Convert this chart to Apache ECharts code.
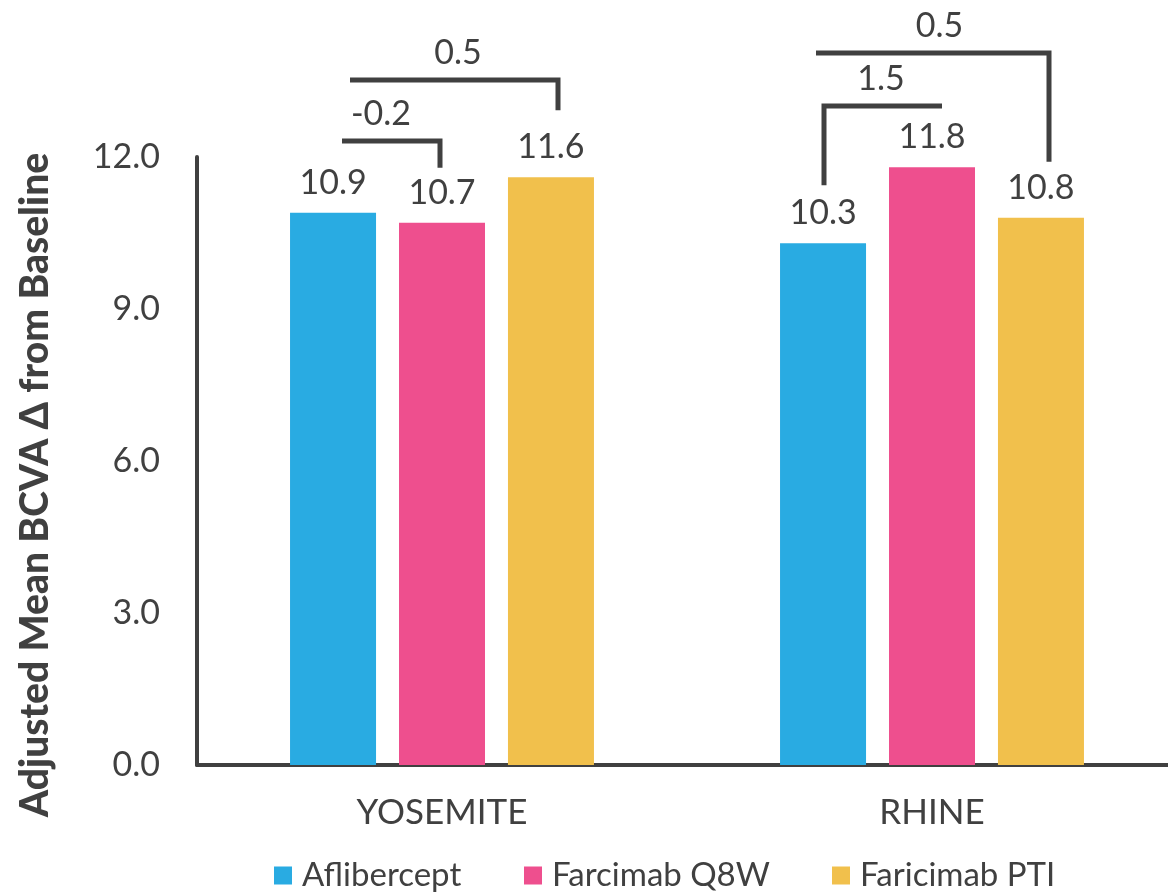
<!DOCTYPE html>
<html>
<head>
<meta charset="utf-8">
<script src="https://cdn.jsdelivr.net/npm/echarts@6/dist/echarts.min.js"></script>
<style>
  html, body { margin: 0; padding: 0; background: #ffffff; }
  #chart { width: 1168px; height: 892px; }
</style>
</head>
<body>
<div id="chart"></div>
<script>
// Trials and arms
const trials = ['YOSEMITE', 'RHINE'];
const armNames = ['Aflibercept', 'Farcimab Q8W', 'Faricimab PTI'];

// Adjusted mean BCVA change from baseline (letters)
const aflibercept = [10.9, 10.3];
const farcimabQ8W = [10.7, 11.8];
const faricimabPTI = [11.6, 10.8];

// Value-axis ticks
const yTicks = [0, 3, 6, 9, 12];

// Pairwise comparisons: trial, first arm, second arm, reported difference
const compTrial = [0, 0, 1, 1];
const compFrom = [0, 0, 0, 0];
const compTo = [1, 2, 1, 2];
const compDiff = ['-0.2', '0.5', '1.5', '0.5'];

// ---- drawing ----
const INK = '#404040';
const FONT = 'Lato, "Open Sans", sans-serif';
const colors = ['#29ABE2', '#EE4F8E', '#F1C04C'];
const armValues = [aflibercept, farcimabQ8W, faricimabPTI];
const BAR_W = 86;
const BAR_GAP = 23;
const legendLeft = [274, 524, 832];

// bracket geometry: rise of the horizontal rule above the plot top,
// clearance between the leg tip and its bar, which end carries the leg,
// small horizontal nudges of the free end and the leg, and of the caption
const bracketRise = [16, 77, 51, 104];
const legClear = [55, 67, 58, 56];
const legOnSecond = [true, true, false, true];
const freeNudge = [9, 17, 10, -7];
const legNudge = [-2, 7, 1, 8];
const captionNudge = [-10, 4, -2, 7];

const chart = echarts.init(document.getElementById('chart'), null, { renderer: 'canvas' });

function renderBracket(params, api) {
  const i = api.value(3);
  const t = api.value(0);
  const a = api.value(1);
  const b = api.value(2);
  const center = api.coord([t, 0])[0];
  const top = api.coord([t, yTicks[yTicks.length - 1]])[1];
  const xArm = arm => center + (arm - 1) * (BAR_W + BAR_GAP);
  const legArm = legOnSecond[i] ? b : a;
  const freeArm = legOnSecond[i] ? a : b;
  const legX = xArm(legArm) + legNudge[i];
  const freeX = xArm(freeArm) + freeNudge[i];
  const level = top - bracketRise[i];
  const legTip = api.coord([t, armValues[legArm][t]])[1] - legClear[i];
  const midX = (legX + freeX) / 2 + captionNudge[i];
  return {
    type: 'group',
    children: [
      {
        type: 'polyline',
        shape: { points: [[freeX, level], [legX, level], [legX, legTip]] },
        style: { stroke: INK, lineWidth: 5, fill: null, lineJoin: 'miter', lineCap: 'butt' }
      },
      {
        type: 'text',
        x: midX,
        y: level - 27,
        style: {
          text: compDiff[i],
          fill: INK,
          font: '34px ' + FONT,
          align: 'center',
          verticalAlign: 'middle'
        }
      }
    ]
  };
}

const barSeries = armNames.map((name, k) => ({
  name: name,
  type: 'bar',
  data: armValues[k],
  barWidth: BAR_W,
  barGap: (BAR_GAP / BAR_W * 100).toFixed(1) + '%',
  itemStyle: { color: colors[k] },
  label: {
    show: true,
    position: 'top',
    distance: 13,
    fontSize: 34,
    fontFamily: FONT,
    color: INK,
    formatter: p => p.value.toFixed(1)
  }
}));

const option = {
  animation: false,
  backgroundColor: '#ffffff',
  // the plot runs a little past the right edge of the page
  grid: {
    left: 197, right: -9, top: 157, bottom: 127,
    containLabel: false,
    outerBoundsMode: 'none'
  },
  legend: armNames.map((name, k) => ({
    data: [name],
    left: legendLeft[k],
    top: 859,
    padding: 0,
    icon: 'rect',
    itemWidth: 18,
    itemHeight: 18,
    textStyle: { fontSize: 33, fontFamily: FONT, color: INK, padding: [0, 0, 0, 5] }
  })),
  xAxis: {
    type: 'category',
    data: trials,
    axisLine: { show: true, lineStyle: { color: INK, width: 4 } },
    axisTick: { show: false },
    axisLabel: { fontSize: 35, fontFamily: FONT, color: INK, margin: 30 }
  },
  yAxis: {
    type: 'value',
    min: yTicks[0],
    max: yTicks[yTicks.length - 1],
    interval: yTicks[1] - yTicks[0],
    axisLine: { show: true, lineStyle: { color: INK, width: 4 } },
    axisTick: { show: false },
    splitLine: { show: false },
    axisLabel: {
      fontSize: 34,
      fontFamily: FONT,
      color: INK,
      margin: 37,
      formatter: v => v.toFixed(1)
    }
  },
  graphic: [
    {
      type: 'text',
      x: 35,
      y: 485,
      rotation: Math.PI / 2,
      style: {
        text: 'Adjusted Mean BCVA \u0394 from Baseline',
        fill: INK,
        font: '900 39px ' + FONT,
        align: 'center',
        verticalAlign: 'middle'
      }
    }
  ],
  series: barSeries.concat([
    {
      name: 'comparisons',
      type: 'custom',
      coordinateSystem: 'cartesian2d',
      clip: false,
      silent: true,
      encode: { x: 0, y: 1 },
      data: compTrial.map((t, i) => [t, compFrom[i], compTo[i], i]),
      renderItem: renderBracket,
      z: 5
    }
  ])
};

chart.setOption(option);
</script>
</body>
</html>
